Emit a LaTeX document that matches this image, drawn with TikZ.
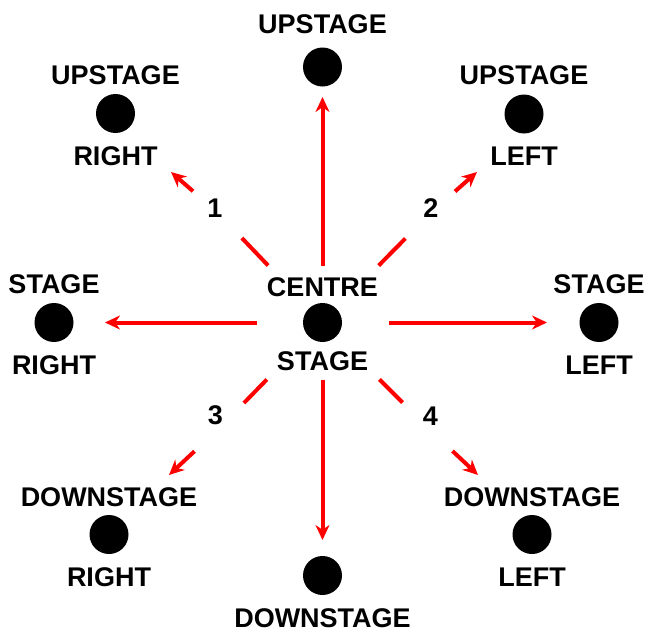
\documentclass[tikz,border=0pt]{standalone}
\usepackage{fontspec}
\setmainfont{Liberation Sans}
\usetikzlibrary{arrows.meta,positioning}

\begin{document}
\begin{tikzpicture}[x=1pt,y=1pt,>={Stealth[length=15pt,width=14pt]},
    font=\fontsize{27}{31}\selectfont\bfseries,
    spot/.style={circle,fill=black,minimum size=39pt,inner sep=0pt,outer sep=0pt},
    word/.style={inner sep=0pt,outer sep=0pt,text height=19.2pt,text depth=0pt},
    move/.style={draw=red,line width=4pt},
    gap/.style={minimum size=50pt,inner sep=0pt,outer sep=0pt}]
  \useasboundingbox (0,0) rectangle (649,-637);

  % Stage positions, in pixels of the plan (y runs downwards).
  \foreach \id/\px/\py in {ctr/322.5/322.5, up/322.5/67, upr/115.5/113.5, upl/524/114,
      sr/54/322.5, sl/599/322.5, dsr/109/534.5, dsl/532/534.5, ds/322.5/575.5}
    \node[spot] (\id) at (\px,-\py) {};

  % Names of the positions.
  \node[word,above=7pt of ctr] (ctrA) {CENTRE};
  \node[word,below=9pt of ctr] (ctrB) {STAGE};
  \node[word,above=14.5pt of up] (upA) {UPSTAGE};
  \node[word,above=10pt of upr] (uprA) {UPSTAGE};
  \node[word,below=13pt of upr] (uprB) {RIGHT};
  \node[word,above=10pt of upl] (uplA) {UPSTAGE};
  \node[word,below=13pt of upl] (uplB) {LEFT};
  \node[word,above=10pt of sr] (srA) {STAGE};
  \node[word,below=13pt of sr] (srB) {RIGHT};
  \node[word,above=10pt of sl] (slA) {STAGE};
  \node[word,below=13pt of sl] (slB) {LEFT};
  \node[word,above=9pt of dsr] (dsrA) {DOWNSTAGE};
  \node[word,below=13pt of dsr] (dsrB) {RIGHT};
  \node[word,above=9pt of dsl] (dslA) {DOWNSTAGE};
  \node[word,below=13pt of dsl] (dslB) {LEFT};
  \node[word,below=13pt of ds] (dsB) {DOWNSTAGE};

  % Invisible box round the centre group; the moves start on its edge.
  \node[minimum width=132pt,minimum height=114pt,inner sep=0pt,outer sep=0pt] (hub) at (ctr) {};

  % Straight moves.
  \draw[move,->,shorten >=10.5pt] (hub) -- (up);
  \draw[move,->,shorten >=31.5pt] (hub) -- (sr);
  \draw[move,->,shorten >=32.5pt] (hub) -- (sl);
  \draw[move,->,shorten >=16pt] (hub) -- (ds);

  % Diagonal moves, broken round their numbers.
  \foreach \k/\gx/\gy/\tx/\ty/\nx/\ny in {1/218/213/171/172/215/208,
      2/430/213.5/477/172/431/208, 3/219.5/428/169/475/215.5/415,
      4/427.5/427.5/478/475/430.5/416}{
    \node[gap] (g\k) at (\gx,-\gy) {};
    \coordinate (t\k) at (\tx,-\ty);
    \draw[move] (hub) -- (g\k);
    \draw[move,->] (g\k) -- (t\k);
    \node[word] (n\k) at (\nx,-\ny) {\k};
  }
\end{tikzpicture}
\end{document}
